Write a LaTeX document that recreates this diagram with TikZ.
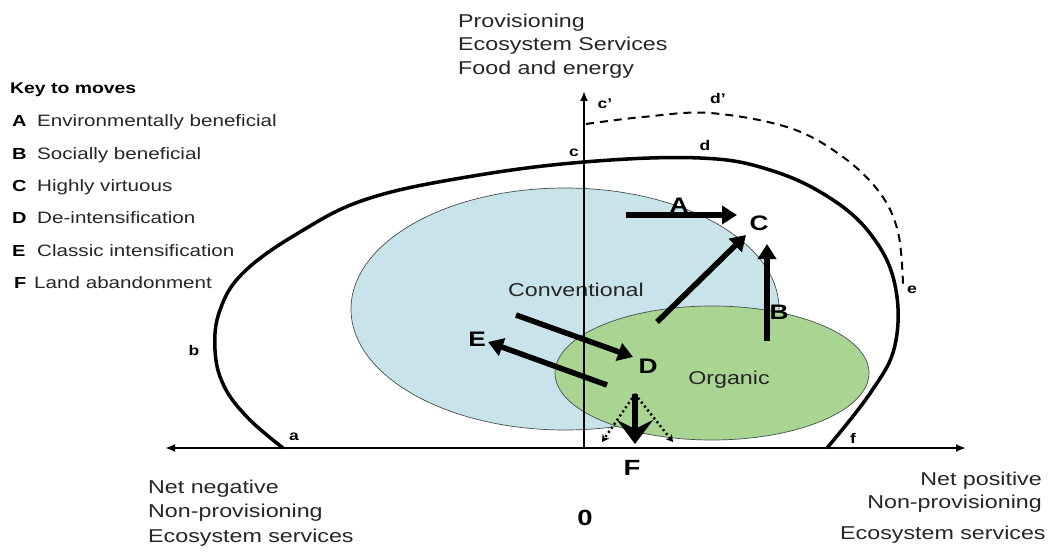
\documentclass[tikz,border=0pt]{standalone}
\usepackage{fontspec}
\setmainfont[FakeStretch=1.25]{Liberation Sans}
\usetikzlibrary{arrows.meta,shapes.geometric}
\definecolor{convblue}{RGB}{200,228,234}
\definecolor{orggreen}{RGB}{169,212,146}
\definecolor{edgegray}{RGB}{70,80,80}
\begin{document}
\begin{tikzpicture}[x=1pt,y=-1pt,
  txt/.style={inner sep=0pt, anchor=base west, font=\fontsize{18.6}{20}\selectfont, text=black!85},
  txtr/.style={txt, anchor=base east},
  keyhead/.style={inner sep=0pt, anchor=base west, font=\fontsize{15.5}{17}\selectfont\bfseries},
  keyletter/.style={inner sep=0pt, anchor=base west, font=\fontsize{16}{17}\selectfont\bfseries},
  keytext/.style={inner sep=0pt, anchor=base west, font=\fontsize{16.5}{17}\selectfont, text=black!85},
  pointlab/.style={inner sep=0pt, font=\fontsize{14}{14}\selectfont\bfseries},
  movelab/.style={inner sep=0pt, font=\fontsize{21}{22}\selectfont\bfseries},
  region/.style={ellipse, draw=edgegray, line width=0.7pt, inner sep=0pt},
  axis/.style={line width=2pt, -{Latex[length=10pt,width=8pt]}},
  move/.style={line width=5.5pt, -{Triangle[length=15pt,width=18pt]}},
  frontier/.style={line width=3.5pt, line join=round},
  newfrontier/.style={line width=2pt, dash pattern=on 8pt off 6pt},
  dotmove/.style={line width=2.5pt, dash pattern=on 2pt off 3pt, -{Stealth[length=7pt,width=8pt]}}]
\useasboundingbox (0,0) rectangle (1048,553);
\fill[white] (0,0) rectangle (1048,553);

% regions
\node[region, fill=convblue, minimum width=428pt, minimum height=242pt] (conv) at (565,309) {};
\node[region, fill=orggreen, minimum width=314pt, minimum height=134pt] (org) at (712,373) {};
\node[inner sep=0pt, font=\fontsize{18.6}{20}\selectfont, text=black!85] (convlab) at (576,290) {Conventional};
\node[inner sep=0pt, font=\fontsize{18.6}{20}\selectfont, text=black!85] (orglab) at (729,380) {Organic};

% axes
\coordinate (O) at (584,448);
\coordinate (xpos) at (966,448);
\coordinate (xneg) at (165,448);
\coordinate (ytop) at (584,91);
\draw[axis] (O) -- (xpos);
\draw[axis] (O) -- (xneg);
\draw[axis] (O) -- (ytop);

% frontier curves
\draw[frontier] plot[smooth, tension=0.65] coordinates {(283,448) (248,418) (224,386) (215,350) (220,310) (244,272) (300,232) (367,199) (467,177) (584,162) (700,158) (770,170) (830,198) (872,236) (895,285) (895,345) (871,392) (827,448)};
\draw[newfrontier] plot[smooth, tension=0.6] coordinates {(586,124) (643,117) (710,113) (790,128) (843,157) (880,193) (898,232) (903,284)};

% point labels
\node[pointlab] (la) at (294,437) {a};
\node[pointlab] (lb) at (194,350) {b};
\node[pointlab] (lc) at (574,153) {c};
\node[pointlab] (lcp) at (605,104) {c’};
\node[pointlab] (ld) at (705,145) {d};
\node[pointlab] (ldp) at (718,98) {d’};
\node[pointlab] (le) at (912,290) {e};
\node[pointlab] (lf) at (853,438) {f};

% moves
\coordinate (Atail) at (626,215);
\coordinate (Ahead) at (737,215);
\draw[move] (Atail) -- (Ahead);
\node[movelab] (mA) at (679,205) {A};
\node[movelab] (mC) at (759,223) {C};
\coordinate (Ctail) at (657,322);
\coordinate (Chead) at (746,235);
\draw[move] (Ctail) -- (Chead);
\coordinate (Btail) at (767,341);
\coordinate (Bhead) at (767,244);
\draw[move] (Btail) -- (Bhead);
\node[movelab] (mB) at (779,312) {B};
\coordinate (Dtail) at (516,315);
\coordinate (Dhead) at (633,357);
\draw[move] (Dtail) -- (Dhead);
\node[movelab] (mD) at (648,366) {D};
\coordinate (Etail) at (607,385);
\coordinate (Ehead) at (488,342);
\draw[move] (Etail) -- (Ehead);
\node[movelab] (mE) at (477,339) {E};

% land abandonment
\coordinate (Ftop) at (635,394);
\coordinate (Fhead) at (635,444);
\coordinate (Fleft) at (602,442);
\coordinate (Fright) at (673,442);
\draw[dotmove] (Ftop) -- (Fleft);
\draw[dotmove] (Ftop) -- (Fright);
\draw[line width=5.5pt, -{Stealth[length=24pt,width=36pt,inset=9pt]}] (Ftop) -- (Fhead);
\node[movelab, font=\fontsize{22}{22}\selectfont\bfseries] (mF) at (632,468) {F};
\node[inner sep=0pt, font=\fontsize{22}{22}\selectfont\bfseries] (zero) at (585,518) {0};

% axis texts
\node[txt] (t1) at (458,28) {Provisioning};
\node[txt] (t2) at (458,51) {Ecosystem Services};
\node[txt] (t3) at (458,75) {Food and energy};
\node[txt] (n1) at (148,493) {Net negative};
\node[txt] (n2) at (148,517) {Non-provisioning};
\node[txt] (n3) at (148,542) {Ecosystem services};
\node[txtr] (p1) at (1042,485) {Net positive};
\node[txtr] (p2) at (1042,508) {Non-provisioning};
\node[txt] (p3) at (840,539) {Ecosystem services};

% key
\node[keyhead] (key) at (10,94) {Key to moves};
\node[keyletter] (kA) at (12,127) {A};
\node[keytext] (kAt) at (37,127) {Environmentally beneficial};
\node[keyletter] (kB) at (12,160) {B};
\node[keytext] (kBt) at (37,160) {Socially beneficial};
\node[keyletter] (kC) at (12,192) {C};
\node[keytext] (kCt) at (37,192) {Highly virtuous};
\node[keyletter] (kD) at (12,224) {D};
\node[keytext] (kDt) at (37,224) {De-intensification};
\node[keyletter] (kE) at (12,256) {E};
\node[keytext] (kEt) at (37,256) {Classic intensification};
\node[keyletter] (kF) at (14,288) {F};
\node[keytext] (kFt) at (34,288) {Land abandonment};
\end{tikzpicture}
\end{document}
